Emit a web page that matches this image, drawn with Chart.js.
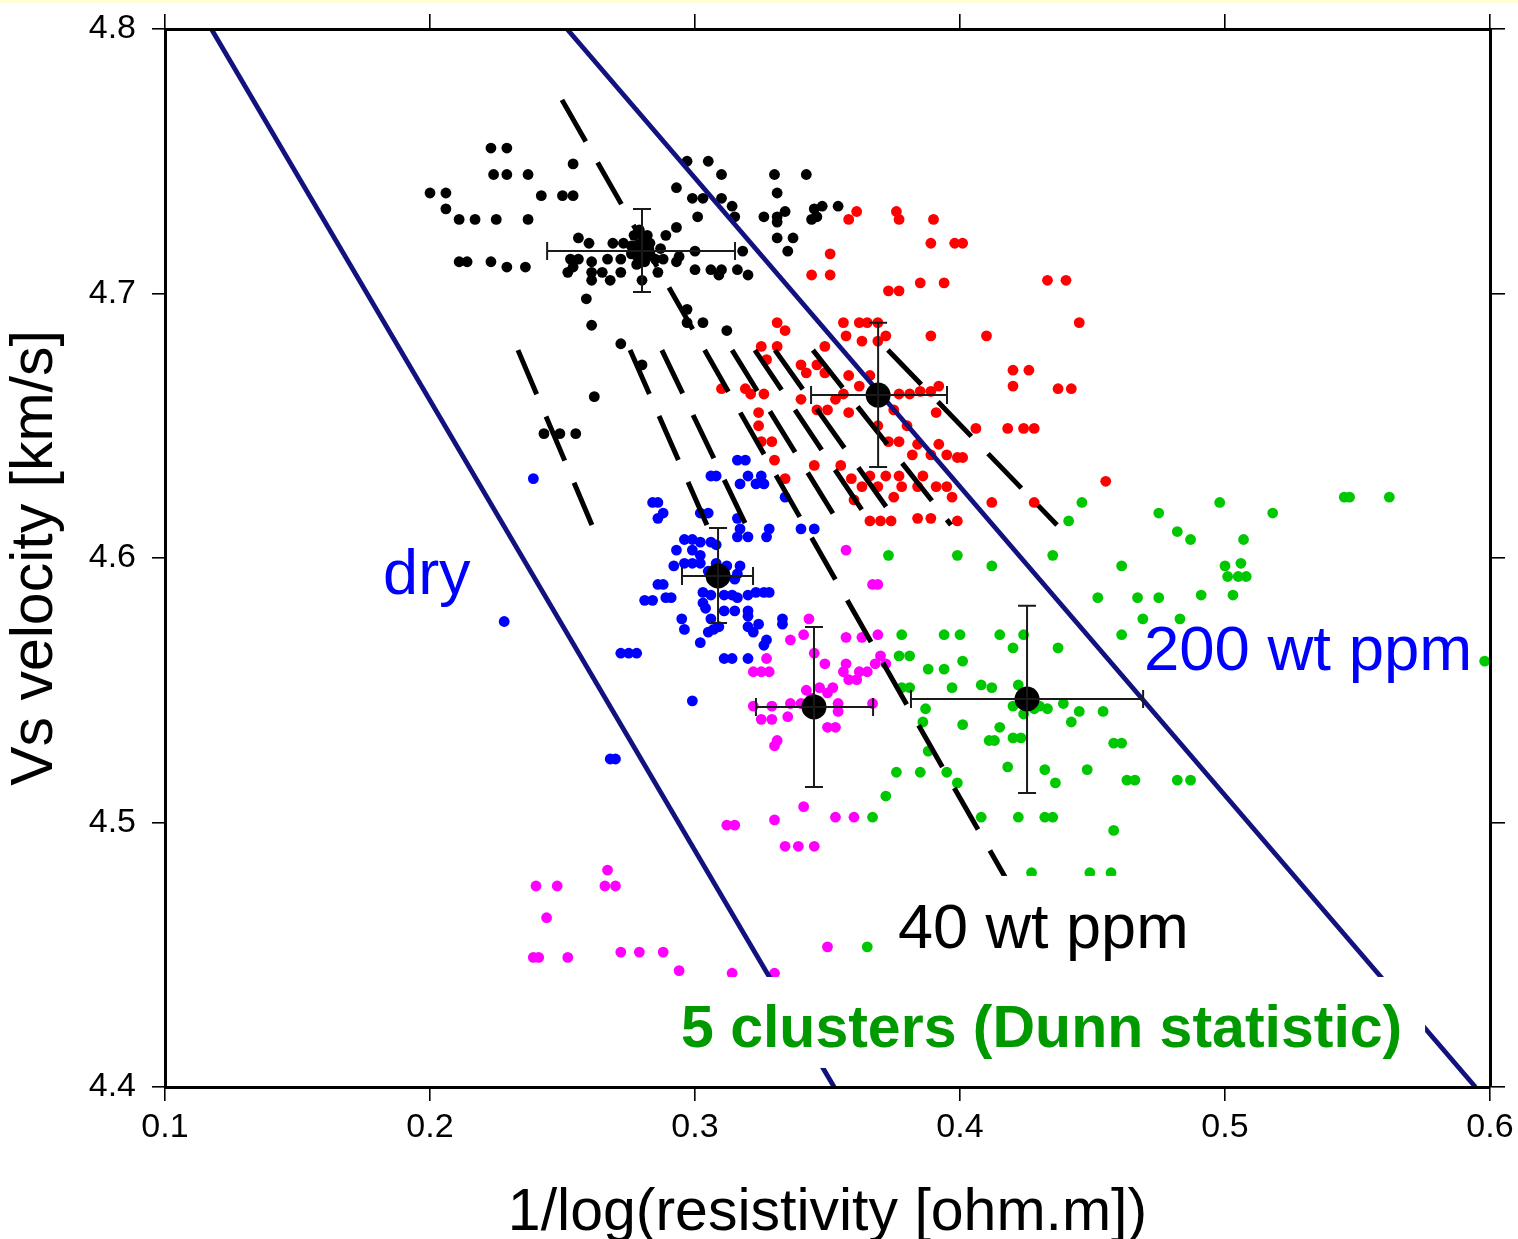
<!DOCTYPE html>
<html>
<head>
<meta charset="utf-8">
<script src="https://cdn.jsdelivr.net/npm/chart.js@4.4.1/dist/chart.umd.min.js"></script>
<style>
  html, body { margin: 0; padding: 0; background: #ffffff; }
  #wrap { position: relative; width: 1518px; height: 1239px; }
</style>
</head>
<body>
<div id="wrap"><canvas id="chart"></canvas></div>
<script>
// ---- axis ticks ----
const xTickValues = [0.1, 0.2, 0.3, 0.4, 0.5, 0.6];
const xTickLabels = ['0.1', '0.2', '0.3', '0.4', '0.5', '0.6'];
const yTickValues = [4.4, 4.5, 4.6, 4.7, 4.8];
const yTickLabels = ['4.4', '4.5', '4.6', '4.7', '4.8'];

// ---- cluster members: [1/log(resistivity), Vs] ----
const blackPoints = [
  [0.200,4.738],[0.206,4.738],[0.206,4.732],[0.211,4.728],[0.217,4.728],[0.225,4.728],[0.237,4.728],
  [0.211,4.712],[0.214,4.712],[0.223,4.712],[0.229,4.710],[0.236,4.710],
  [0.223,4.755],[0.229,4.755],[0.224,4.745],[0.229,4.745],[0.237,4.745],[0.254,4.749],
  [0.242,4.737],[0.250,4.737],[0.254,4.737],
  [0.256,4.721],[0.260,4.719],[0.269,4.719],[0.273,4.719],[0.277,4.722],[0.282,4.722],[0.289,4.722],[0.293,4.725],[0.279,4.724],
  [0.253,4.713],[0.256,4.713],[0.254,4.710],[0.252,4.708],[0.261,4.712],[0.261,4.708],[0.265,4.708],[0.267,4.713],[0.272,4.713],[0.272,4.708],[0.261,4.705],[0.268,4.705],
  [0.286,4.708],[0.280,4.705],[0.288,4.713],[0.293,4.712],[0.294,4.714],[0.300,4.716],[0.287,4.717],[0.283,4.715],[0.276,4.715],[0.281,4.712],[0.276,4.718],[0.283,4.719],[0.285,4.713],[0.278,4.711],
  [0.300,4.709],[0.306,4.709],[0.310,4.709],[0.309,4.707],[0.316,4.709],[0.320,4.707],
  [0.259,4.698],[0.261,4.688],[0.297,4.694],[0.297,4.689],[0.303,4.689],[0.312,4.686],[0.272,4.681],[0.280,4.673],[0.262,4.661],[0.243,4.647],[0.249,4.647],[0.255,4.647],
  [0.293,4.740],[0.297,4.750],[0.305,4.750],[0.310,4.745],[0.299,4.736],[0.303,4.736],[0.310,4.736],[0.314,4.733],[0.315,4.729],[0.301,4.729],
  [0.330,4.745],[0.342,4.745],[0.331,4.738],[0.334,4.731],[0.326,4.729],[0.331,4.729],[0.331,4.727],[0.344,4.728],[0.346,4.729],[0.348,4.733],[0.345,4.732],[0.354,4.733],[0.331,4.721],[0.337,4.721],[0.335,4.716],[0.318,4.716]
];

const redPoints = [
  [0.361,4.731],[0.358,4.728],[0.376,4.731],[0.377,4.728],[0.390,4.728],[0.389,4.719],[0.398,4.719],[0.401,4.719],[0.351,4.715],[0.344,4.707],[0.351,4.707],
  [0.373,4.701],[0.377,4.701],[0.385,4.704],[0.394,4.704],[0.433,4.705],[0.440,4.705],[0.445,4.689],
  [0.331,4.689],[0.334,4.686],[0.356,4.689],[0.362,4.689],[0.365,4.689],[0.369,4.689],[0.357,4.684],[0.363,4.682],[0.369,4.682],[0.372,4.684],[0.389,4.684],[0.410,4.684],
  [0.325,4.680],[0.331,4.680],[0.349,4.680],[0.327,4.675],[0.340,4.673],[0.342,4.670],[0.346,4.673],[0.349,4.670],[0.358,4.669],[0.366,4.669],[0.362,4.665],
  [0.310,4.664],[0.319,4.664],[0.321,4.662],[0.326,4.662],[0.340,4.660],[0.356,4.662],[0.353,4.660],[0.377,4.662],[0.381,4.662],[0.385,4.663],[0.389,4.663],[0.392,4.665],
  [0.420,4.671],[0.426,4.671],[0.420,4.665],[0.437,4.664],[0.442,4.664],
  [0.346,4.656],[0.350,4.656],[0.358,4.655],[0.375,4.656],[0.391,4.655],[0.324,4.655],[0.324,4.650],[0.380,4.650],[0.406,4.649],[0.418,4.649],[0.424,4.649],[0.428,4.649],
  [0.325,4.644],[0.329,4.644],[0.369,4.650],[0.373,4.644],[0.377,4.644],[0.384,4.643],[0.392,4.643],
  [0.330,4.637],[0.382,4.639],[0.389,4.639],[0.395,4.639],[0.399,4.638],[0.401,4.638],[0.345,4.635],[0.355,4.635],
  [0.334,4.630],[0.359,4.630],[0.366,4.631],[0.372,4.631],[0.377,4.631],[0.386,4.631],
  [0.363,4.627],[0.369,4.627],[0.378,4.627],[0.384,4.627],[0.391,4.627],[0.395,4.627],
  [0.360,4.622],[0.375,4.623],[0.397,4.623],[0.412,4.621],[0.428,4.621],[0.455,4.629],
  [0.366,4.614],[0.370,4.614],[0.374,4.614],[0.384,4.615],[0.389,4.615],[0.399,4.614]
];

const bluePoints = [
  [0.239,4.630],[0.228,4.576],[0.316,4.637],[0.319,4.637],[0.306,4.631],[0.308,4.631],[0.320,4.631],[0.317,4.628],[0.325,4.631],[0.323,4.628],[0.326,4.628],
  [0.284,4.621],[0.286,4.621],[0.288,4.617],[0.286,4.615],[0.302,4.617],[0.305,4.617],[0.316,4.615],[0.334,4.623],[0.317,4.611],[0.316,4.608],[0.320,4.608],[0.328,4.611],[0.327,4.608],[0.340,4.611],[0.345,4.611],
  [0.296,4.607],[0.299,4.607],[0.302,4.606],[0.306,4.606],[0.308,4.605],[0.293,4.603],[0.299,4.603],[0.302,4.601],[0.292,4.597],[0.296,4.598],[0.299,4.598],[0.302,4.598],[0.312,4.597],[0.317,4.597],[0.315,4.592],[0.316,4.594],
  [0.286,4.590],[0.288,4.590],[0.281,4.584],[0.284,4.584],[0.289,4.585],[0.291,4.585],[0.303,4.587],[0.306,4.586],[0.303,4.583],[0.304,4.581],[0.311,4.586],[0.314,4.586],[0.316,4.585],[0.320,4.586],[0.323,4.587],[0.326,4.587],[0.328,4.587],
  [0.311,4.580],[0.315,4.580],[0.320,4.580],[0.320,4.578],[0.295,4.577],[0.296,4.573],[0.306,4.577],[0.305,4.572],[0.307,4.573],[0.309,4.574],[0.320,4.574],[0.322,4.572],[0.324,4.575],[0.333,4.577],[0.333,4.575],[0.327,4.569],[0.326,4.567],[0.302,4.568],
  [0.305,4.595],[0.310,4.592],[0.308,4.598],
  [0.272,4.564],[0.275,4.564],[0.278,4.564],[0.311,4.562],[0.314,4.562],[0.320,4.562],[0.299,4.546],[0.268,4.524],[0.270,4.524]
];

const magentaPoints = [
  [0.357,4.603],[0.367,4.590],[0.369,4.590],[0.343,4.577],[0.341,4.571],[0.336,4.569],[0.357,4.570],[0.363,4.570],[0.369,4.571],
  [0.327,4.562],[0.322,4.557],[0.325,4.557],[0.328,4.557],[0.345,4.564],[0.349,4.560],[0.357,4.560],[0.356,4.557],[0.358,4.554],[0.361,4.554],[0.362,4.557],[0.365,4.557],[0.370,4.563],[0.368,4.560],[0.372,4.560],
  [0.352,4.551],[0.350,4.549],[0.347,4.551],[0.342,4.550],[0.344,4.547],[0.354,4.545],[0.367,4.545],[0.354,4.542],[0.322,4.544],[0.329,4.544],[0.336,4.545],[0.340,4.545],
  [0.325,4.539],[0.329,4.539],[0.335,4.540],[0.350,4.536],[0.353,4.536],[0.331,4.531],[0.330,4.529],
  [0.341,4.506],[0.330,4.501],[0.353,4.502],[0.360,4.502],[0.312,4.499],[0.315,4.499],[0.334,4.491],[0.339,4.491],[0.345,4.491],
  [0.267,4.482],[0.240,4.476],[0.248,4.476],[0.266,4.476],[0.270,4.476],[0.244,4.464],[0.239,4.449],[0.241,4.449],[0.252,4.449],
  [0.272,4.451],[0.279,4.451],[0.288,4.451],[0.294,4.444],[0.314,4.443],[0.330,4.443],[0.350,4.453]
];

const greenPoints = [
  [0.446,4.621],[0.441,4.614],[0.475,4.617],[0.482,4.610],[0.487,4.607],[0.498,4.621],[0.518,4.617],[0.507,4.607],[0.500,4.597],[0.506,4.598],
  [0.501,4.593],[0.505,4.593],[0.508,4.593],[0.503,4.586],[0.491,4.586],[0.545,4.623],[0.547,4.623],[0.562,4.623],
  [0.373,4.601],[0.399,4.601],[0.412,4.597],[0.435,4.601],[0.461,4.597],[0.452,4.585],[0.467,4.585],[0.475,4.585],[0.469,4.577],[0.483,4.577],[0.461,4.571],
  [0.378,4.571],[0.394,4.571],[0.400,4.571],[0.415,4.571],[0.424,4.571],[0.420,4.566],[0.437,4.566],[0.377,4.563],[0.381,4.563],[0.401,4.561],[0.388,4.558],[0.394,4.558],
  [0.378,4.551],[0.381,4.551],[0.397,4.551],[0.408,4.552],[0.412,4.551],[0.422,4.552],[0.420,4.544],[0.424,4.541],[0.430,4.544],[0.433,4.543],[0.428,4.543],[0.439,4.545],[0.445,4.542],[0.454,4.542],[0.387,4.543],
  [0.386,4.538],[0.401,4.537],[0.415,4.536],[0.442,4.538],[0.411,4.531],[0.413,4.531],[0.420,4.532],[0.423,4.532],[0.458,4.530],[0.461,4.530],[0.388,4.527],
  [0.418,4.521],[0.432,4.520],[0.448,4.520],[0.376,4.519],[0.385,4.519],[0.395,4.519],[0.399,4.515],[0.436,4.515],[0.463,4.516],[0.466,4.516],[0.482,4.516],[0.487,4.516],
  [0.372,4.510],[0.367,4.502],[0.408,4.502],[0.422,4.502],[0.432,4.502],[0.435,4.502],[0.458,4.497],
  [0.427,4.481],[0.449,4.481],[0.457,4.481],[0.365,4.453],[0.598,4.561]
];

// ---- cluster centres with spread (black, red, blue, magenta, green) ----
const centroidX  = [0.2800, 0.3691, 0.3087, 0.3449, 0.4253];
const centroidY  = [4.7161, 4.6616, 4.5932, 4.5437, 4.5467];
const xSpreadLow  = [0.2442, 0.3438, 0.2951, 0.3230, 0.3815];
const xSpreadHigh = [0.3151, 0.3951, 0.3219, 0.3672, 0.4691];
const ySpreadLow  = [4.7006, 4.6344, 4.5754, 4.5134, 4.5112];
const ySpreadHigh = [4.7319, 4.6889, 4.6113, 4.5739, 4.5819];

// ---- model lines ----
const dryLine    = [[0.1175, 4.8], [0.3525, 4.4]];
const ppm200Line = [[0.2517, 4.8], [0.5945, 4.4]];
const ppm40Line  = [[0.2498, 4.7732], [0.4170, 4.4794]];
const trendStartX = [0.2332, 0.2755, 0.2875, 0.3140, 0.3226, 0.3302, 0.3445, 0.3728];
const trendEndX   = [0.2611, 0.3045, 0.3192, 0.3547, 0.3668, 0.3770, 0.3966, 0.4366];
const trendTopY = 4.6786;
const trendBottomY = 4.6125;

// ---- styling ----
const FONT = '"Liberation Sans", Arial, Helvetica, sans-serif';
const NAVY = '#12127f';
Chart.defaults.font.family = FONT;
Chart.defaults.color = '#000';

function pointSet(label, data, color) {
  return { label, data, backgroundColor: color, borderWidth: 0, pointRadius: 5.4, pointHoverRadius: 5.4, order: 3 };
}
function lineSet(label, data, color, width, dash) {
  return { label, data, showLine: true, borderColor: color, borderWidth: width, borderDash: dash || [],
           pointRadius: 0, pointHoverRadius: 0, fill: false, tension: 0, order: dash ? 2 : 1 };
}

const datasets = [
  { label: 'cluster centres', data: centroidX.map((x, i) => [x, centroidY[i]]),
    backgroundColor: '#000', borderWidth: 0, pointRadius: 12.5, pointHoverRadius: 12.5, order: 0 },
  lineSet('dry', dryLine, NAVY, 4.8),
  lineSet('200 wt ppm', ppm200Line, NAVY, 4.8),
  lineSet('40 wt ppm', ppm40Line, '#000', 5, [48, 24]),
  ...trendStartX.map((x0, i) => lineSet('trend ' + (i + 1), [[x0, trendTopY], [trendEndX[i], trendBottomY]], '#000', 5, [48, 24])),
  pointSet('cluster 1', blackPoints, '#000000'),
  pointSet('cluster 2', redPoints, '#ff0000'),
  pointSet('cluster 3', bluePoints, '#0000ff'),
  pointSet('cluster 4', magentaPoints, '#ff00ff'),
  pointSet('cluster 5', greenPoints, '#00c800')
];

// labels drawn over the plot, anchored in data space
const plotLabels = [
  { text: 'dry', x: 0.1823, y: 4.5864, font: '63px ' + FONT, color: '#0000ff' },
  { text: '200 wt ppm', x: 0.4694, y: 4.5577, font: '63.5px ' + FONT, color: '#0000ff' },
  { text: '40 wt ppm', x: 0.3766, y: 4.4526, font: '63px ' + FONT, color: '#000000' },
  { text: '5 clusters (Dunn statistic)', x: 0.2947, y: 4.4151, font: 'bold 59px ' + FONT, color: '#009900' }
];
const labelBackgrounds = [
  { x0: 0.3698, x1: 0.4906, y0: 4.4798, y1: 4.4416 },
  { x0: 0.2906, x1: 0.5755, y0: 4.4416, y1: 4.4072 }
];

const overlayPlugin = {
  id: 'overlay',
  beforeDraw(chart) {
    const ctx = chart.ctx;
    ctx.save();
    ctx.fillStyle = '#fffdd2';
    ctx.fillRect(0, 0, chart.width, 3);
    ctx.restore();
  },
  afterDatasetsDraw(chart) {
    const ctx = chart.ctx;
    const xs = chart.scales.x, ys = chart.scales.y;
    ctx.save();
    // spread bars around each cluster centre
    ctx.strokeStyle = '#1a1a1a';
    ctx.lineWidth = 2;
    const cap = 9;
    centroidX.forEach((cx, i) => {
      const px = xs.getPixelForValue(cx), py = ys.getPixelForValue(centroidY[i]);
      const xl = xs.getPixelForValue(xSpreadLow[i]), xh = xs.getPixelForValue(xSpreadHigh[i]);
      const yl = ys.getPixelForValue(ySpreadLow[i]), yh = ys.getPixelForValue(ySpreadHigh[i]);
      ctx.beginPath();
      ctx.moveTo(xl, py); ctx.lineTo(xh, py);
      ctx.moveTo(xl, py - cap); ctx.lineTo(xl, py + cap);
      ctx.moveTo(xh, py - cap); ctx.lineTo(xh, py + cap);
      ctx.moveTo(px, yh); ctx.lineTo(px, yl);
      ctx.moveTo(px - cap, yh); ctx.lineTo(px + cap, yh);
      ctx.moveTo(px - cap, yl); ctx.lineTo(px + cap, yl);
      ctx.stroke();
    });
    // white panels behind the lower labels
    ctx.fillStyle = '#ffffff';
    labelBackgrounds.forEach(b => {
      const x0 = xs.getPixelForValue(b.x0), x1 = xs.getPixelForValue(b.x1);
      const y0 = ys.getPixelForValue(b.y0), y1 = ys.getPixelForValue(b.y1);
      ctx.fillRect(x0, y0, x1 - x0, y1 - y0);
    });
    ctx.textBaseline = 'alphabetic';
    ctx.textAlign = 'left';
    plotLabels.forEach(l => {
      ctx.font = l.font;
      ctx.fillStyle = l.color;
      ctx.fillText(l.text, xs.getPixelForValue(l.x), ys.getPixelForValue(l.y));
    });
    ctx.restore();
  }
};

const axisGrid = (len) => ({ display: true, drawOnChartArea: false, drawTicks: true, tickLength: len, color: '#000', lineWidth: 1.6 });
const axisBorder = { display: true, color: '#000', width: 3, z: 1 };
// fixed axis boxes so the plot frame sits at a known place
const fixBox = (w, h) => s => {
  if (w !== null) s.width = w;
  if (h !== null) s.height = h;
  s.paddingTop = 0; s.paddingBottom = 0; s.paddingLeft = 0; s.paddingRight = 0;
};

new Chart(document.getElementById('chart'), {
  type: 'scatter',
  data: { datasets },
  options: {
    responsive: true,
    maintainAspectRatio: false,
    animation: false,
    events: [],
    layout: { padding: 0 },
    plugins: { legend: { display: false }, tooltip: { enabled: false } },
    scales: {
      x: {
        type: 'linear', position: 'bottom', min: 0.1, max: 0.6,
        afterBuildTicks: s => { s.ticks = xTickValues.map(v => ({ value: v })); },
        ticks: { callback: (v, i) => xTickLabels[i], font: { size: 34 }, color: '#000', padding: 6.5, maxRotation: 0, autoSkip: false },
        grid: axisGrid(14), border: axisBorder,
        title: { display: true, text: '1/log(resistivity [ohm.m])', color: '#000', font: { size: 59, lineHeight: 0.85 }, padding: 0 },
        afterFit: fixBox(null, 152)
      },
      xTop: {
        type: 'linear', axis: 'x', position: 'top', min: 0.1, max: 0.6,
        afterBuildTicks: s => { s.ticks = xTickValues.map(v => ({ value: v })); },
        ticks: { display: false },
        grid: axisGrid(15), border: axisBorder,
        afterFit: fixBox(null, 29)
      },
      y: {
        type: 'linear', position: 'left', min: 4.4, max: 4.8,
        afterBuildTicks: s => { s.ticks = yTickValues.map(v => ({ value: v })); },
        ticks: { callback: (v, i) => yTickLabels[i], font: { size: 34 }, color: '#000', padding: 16, autoSkip: false },
        grid: axisGrid(13), border: axisBorder,
        title: { display: true, text: 'Vs velocity [km/s]', color: '#000', font: { size: 59, lineHeight: 1.2 }, padding: 0 },
        afterFit: fixBox(165, null)
      },
      yRight: {
        type: 'linear', axis: 'y', position: 'right', min: 4.4, max: 4.8,
        afterBuildTicks: s => { s.ticks = yTickValues.map(v => ({ value: v })); },
        ticks: { display: false },
        grid: axisGrid(15), border: axisBorder,
        afterFit: fixBox(28, null)
      }
    }
  },
  plugins: [overlayPlugin]
});
</script>
</body>
</html>
